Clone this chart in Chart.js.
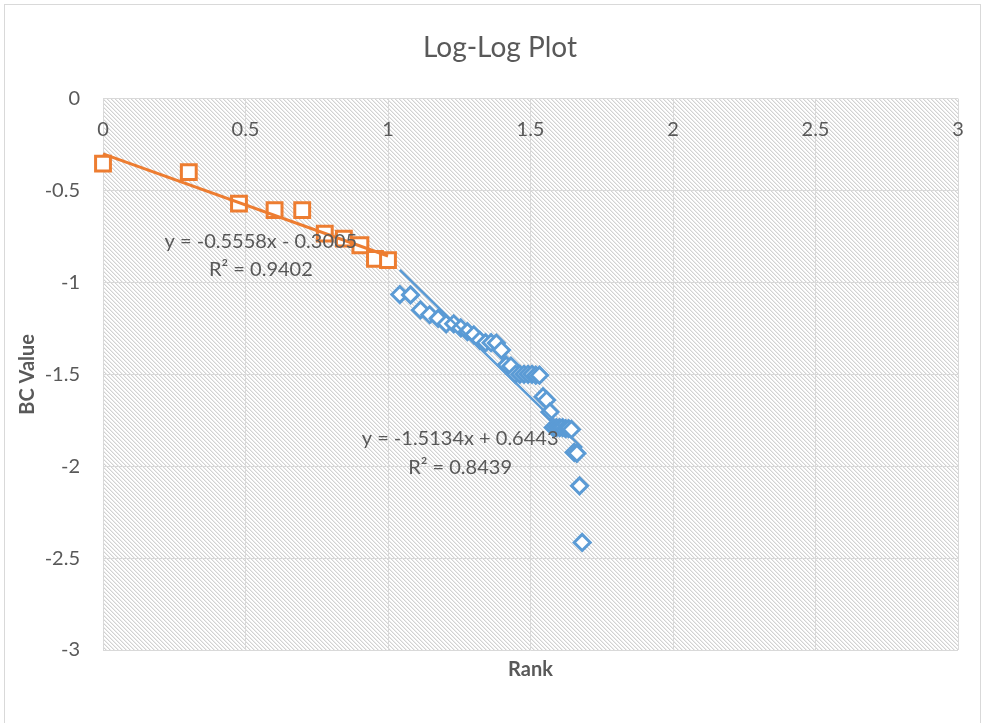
<!DOCTYPE html>
<html>
<head>
<meta charset="utf-8">
<script src="https://cdn.jsdelivr.net/npm/chart.js@4/dist/chart.umd.min.js"></script>
<style>
  html, body { margin: 0; padding: 0; background: #ffffff; }
  #wrap { width: 984px; height: 723px; position: relative; }
</style>
</head>
<body>
<div id="wrap"><canvas id="chart" width="984" height="723"></canvas></div>
<script>
// Top ten ranks and their log10 BC values
const headRanks = [1, 2, 3, 4, 5, 6, 7, 8, 9, 10];
const headBC = [-0.354, -0.400, -0.571, -0.607, -0.607, -0.735, -0.762, -0.798, -0.872, -0.879];

// Remaining ranks and their log10 BC values
const tailRanks = [11, 12, 13, 14, 15, 16, 17, 18, 19, 20,
                   21, 22, 23, 24, 25, 26, 27, 28, 29, 30,
                   31, 32, 33, 34, 35, 36, 37, 38, 39, 40,
                   41, 42, 43, 44, 45, 46, 47, 48];
const tailBC = [-1.066, -1.068, -1.150, -1.176, -1.196, -1.225, -1.225, -1.248, -1.268, -1.285,
                -1.315, -1.328, -1.328, -1.330, -1.368, -1.450, -1.455, -1.500, -1.500, -1.500,
                -1.500, -1.500, -1.505, -1.505, -1.622, -1.640, -1.705, -1.790, -1.790, -1.790,
                -1.790, -1.795, -1.795, -1.800, -1.925, -1.930, -2.107, -2.415];

// Linear trendlines fitted to each group (head, tail)
const fitSlopes = [-0.5558, -1.5134];
const fitIntercepts = [-0.3005, 0.6443];
const fitR2 = [0.9402, 0.8439];

// Where each trendline's equation block is centred, in data units
const fitLabelX = [0.554, 1.253];
const fitLabelY = [[-0.778, -0.931], [-1.848, -2.006]];

const ORANGE = '#ed7d31';
const BLUE = '#5b9bd5';
const TEXT = '#595959';
const GRID = '#d9d9d9';
const FONT = 'Lato, "Open Sans", sans-serif';

const toPoints = (ranks, vals) => ranks.map((r, i) => ({ x: Math.log10(r), y: vals[i] }));
const headPts = toPoints(headRanks, headBC);
const tailPts = toPoints(tailRanks, tailBC);

function trend(k, pts) {
  const xs = pts.map(p => p.x);
  const x0 = Math.min(...xs), x1 = Math.max(...xs);
  return [x0, x1].map(x => ({ x, y: fitSlopes[k] * x + fitIntercepts[k] }));
}

function fmtEq(k) {
  const b = fitIntercepts[k];
  return 'y = ' + fitSlopes[k].toFixed(4) + 'x ' + (b < 0 ? '- ' : '+ ') + Math.abs(b).toFixed(4);
}

// Plain number labels: 1 rather than 1.0
const plainTick = v => String(Number(v.toFixed(2)));

const ctx = document.getElementById('chart').getContext('2d');

// Diagonal hatch used to fill the plot area
function makeHatch() {
  const t = document.createElement('canvas');
  t.width = 4; t.height = 4;
  const g = t.getContext('2d');
  g.fillStyle = '#ffffff';
  g.fillRect(0, 0, 4, 4);
  g.fillStyle = '#d2d2d2';
  for (let i = 0; i < 4; i++) g.fillRect(i, i, 1, 1);
  g.fillStyle = '#ececec';
  for (let i = 0; i < 4; i++) g.fillRect((i + 1) % 4, i, 1, 1);
  return ctx.createPattern(t, 'repeat');
}
const hatch = makeHatch();

const backdrop = {
  id: 'backdrop',
  beforeDraw(chart) {
    const { ctx: c, chartArea: a } = chart;
    c.save();
    c.fillStyle = '#ffffff';
    c.fillRect(0, 0, chart.width, chart.height);
    c.strokeStyle = GRID;
    c.lineWidth = 1;
    c.strokeRect(4.5, 4.5, 976, 760);
    c.fillStyle = hatch;
    c.fillRect(a.left, a.top, a.right - a.left, a.bottom - a.top);
    c.restore();
  }
};

const fitLabels = {
  id: 'fitLabels',
  afterDatasetsDraw(chart) {
    const c = chart.ctx;
    const xs = chart.scales.x, ys = chart.scales.y;
    c.save();
    c.fillStyle = TEXT;
    c.font = '20px ' + FONT;
    c.textAlign = 'center';
    c.textBaseline = 'middle';
    for (let k = 0; k < fitSlopes.length; k++) {
      const px = xs.getPixelForValue(fitLabelX[k]);
      c.fillText(fmtEq(k), px, ys.getPixelForValue(fitLabelY[k][0]));
      c.fillText('R\u00B2 = ' + fitR2[k].toFixed(4), px, ys.getPixelForValue(fitLabelY[k][1]));
    }
    c.restore();
  }
};

new Chart(ctx, {
  type: 'scatter',
  data: {
    datasets: [
      {
        label: 'Head trend',
        data: trend(0, headPts),
        showLine: true,
        borderColor: ORANGE,
        borderWidth: 3,
        pointRadius: 0,
        order: 0,
        clip: false,
        xAxisID: 'x', yAxisID: 'y'
      },
      {
        label: 'Tail trend',
        data: trend(1, tailPts),
        showLine: true,
        borderColor: BLUE,
        borderWidth: 2.5,
        pointRadius: 0,
        order: 0,
        clip: false,
        xAxisID: 'x', yAxisID: 'y'
      },
      {
        label: 'Top 10',
        data: headPts,
        pointStyle: 'rect',
        pointRadius: 10.5,
        borderColor: ORANGE,
        backgroundColor: '#ffffff',
        borderWidth: 3,
        order: 1,
        clip: false,
        xAxisID: 'x', yAxisID: 'y'
      },
      {
        label: 'Rest',
        data: tailPts,
        pointStyle: 'rectRot',
        pointRadius: 8,
        borderColor: BLUE,
        backgroundColor: '#ffffff',
        borderWidth: 3,
        order: 1,
        clip: false,
        xAxisID: 'x', yAxisID: 'y'
      }
    ]
  },
  options: {
    responsive: false,
    animation: false,
    events: [],
    layout: { padding: { left: 42, right: 26, top: 5, bottom: 30 } },
    plugins: {
      legend: { display: false },
      tooltip: { enabled: false },
      title: {
        display: true,
        text: 'Log-Log Plot',
        color: TEXT,
        font: { family: FONT, size: 28, weight: 'normal' },
        padding: { top: 26, bottom: 34 }
      }
    },
    scales: {
      x: {
        type: 'linear',
        axis: 'x',
        position: { y: 0 },
        min: 0,
        max: 3,
        ticks: {
          stepSize: 0.5,
          color: TEXT,
          font: { family: FONT, size: 20 },
          padding: 19,
          maxRotation: 0,
          callback: plainTick
        },
        grid: { color: GRID, lineWidth: 1, drawTicks: false },
        border: { display: false }
      },
      xt: {
        type: 'linear',
        axis: 'x',
        position: 'bottom',
        min: 0,
        max: 3,
        ticks: { display: false },
        grid: { display: false, drawTicks: false },
        border: { display: false },
        title: {
          display: true,
          text: 'Rank',
          color: TEXT,
          font: { family: FONT, size: 20, weight: 'bold' },
          padding: { top: 8, bottom: 11 }
        }
      },
      y: {
        type: 'linear',
        position: 'left',
        min: -3,
        max: 0,
        ticks: {
          stepSize: 0.5,
          color: TEXT,
          font: { family: FONT, size: 20 },
          padding: 23,
          callback: plainTick
        },
        grid: { color: GRID, lineWidth: 1, drawTicks: false },
        border: { display: false },
        title: {
          display: true,
          text: 'BC Value',
          color: TEXT,
          font: { family: FONT, size: 20, weight: 'bold' },
          padding: { top: -26, bottom: 0 }
        },
        afterFit(scale) { scale.width = 61; }
      }
    }
  },
  plugins: [backdrop, fitLabels]
});
</script>
</body>
</html>
